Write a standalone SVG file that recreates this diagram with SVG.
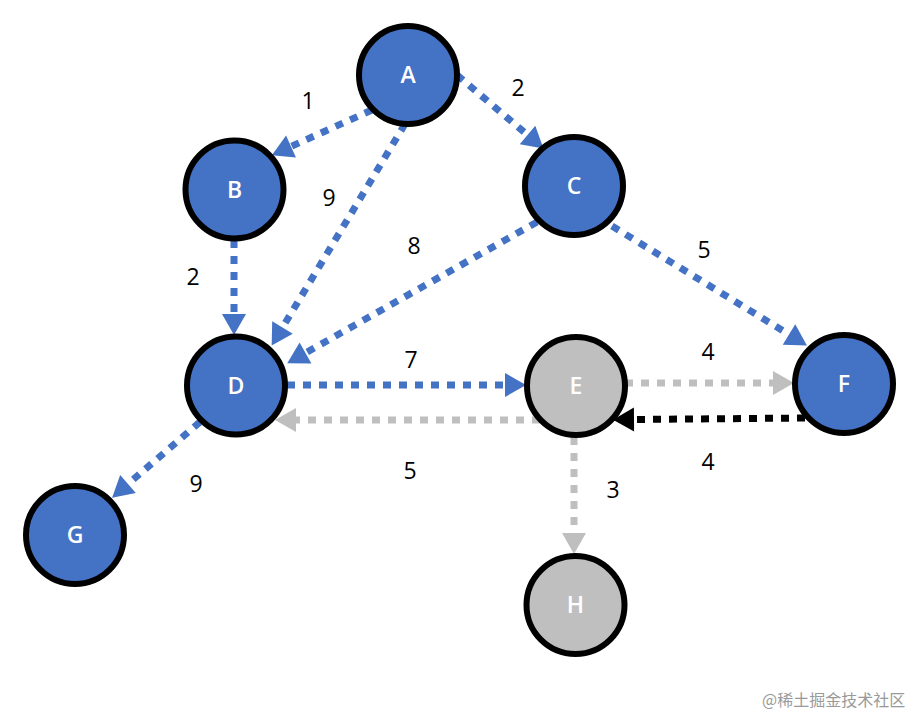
<svg xmlns="http://www.w3.org/2000/svg" width="914" height="718" viewBox="0 0 914 718">
<style>
.nb{fill:#4472C4;stroke:#000;stroke-width:6}
.ng{fill:#BFBFBF;stroke:#000;stroke-width:6}
.nt{fill:#fff;font-family:"Open Sans","Liberation Sans",sans-serif;font-size:23px;font-weight:600;text-anchor:middle}
.e{fill:none;stroke-width:7;stroke-dasharray:8 8}
.eb{stroke:#4472C4}
.eg{stroke:#BFBFBF}
.ek{stroke:#000}
.lb{fill:#000;font-family:"Open Sans","Liberation Sans",sans-serif;font-size:23px;text-anchor:middle}
.wm{fill:#9a9a9a;font-family:"Noto Sans CJK SC",sans-serif;font-size:16px}
</style>
<defs>
<marker id="ab" markerUnits="userSpaceOnUse" markerWidth="22" markerHeight="24" refX="0" refY="12" orient="auto" overflow="visible"><path d="M0,0 L21,12 L0,24 z" fill="#4472C4"/></marker>
<marker id="ag" markerUnits="userSpaceOnUse" markerWidth="22" markerHeight="24" refX="0" refY="12" orient="auto" overflow="visible"><path d="M0,0 L21,12 L0,24 z" fill="#BFBFBF"/></marker>
<marker id="ak" markerUnits="userSpaceOnUse" markerWidth="22" markerHeight="24" refX="0" refY="12" orient="auto" overflow="visible"><path d="M0,0 L21,12 L0,24 z" fill="#000"/></marker>
</defs>
<g id="edges">
<line class="e eb" x1="372" y1="110" x2="291" y2="146.5" marker-end="url(#ab)"/>
<line class="e eb" x1="457" y1="75" x2="527.5" y2="135" marker-end="url(#ab)"/>
<line class="e eb" x1="405" y1="124" x2="282.5" y2="327.5" marker-end="url(#ab)"/>
<line class="e eb" x1="234" y1="240" x2="234" y2="314" marker-end="url(#ab)"/>
<line class="e eb" x1="537" y1="222" x2="305.5" y2="353" marker-end="url(#ab)"/>
<line class="e eb" x1="612" y1="226" x2="789" y2="334.5" marker-end="url(#ab)"/>
<line class="e eb" x1="287" y1="385" x2="505" y2="385" marker-end="url(#ab)"/>
<line class="e eg" x1="540" y1="420" x2="296" y2="420" marker-end="url(#ag)"/>
<line class="e eg" x1="625" y1="383" x2="773" y2="383" marker-end="url(#ag)"/>
<line class="e ek" x1="805" y1="418" x2="634" y2="419.5" marker-end="url(#ak)"/>
<line class="e eg" x1="574" y1="437" x2="574" y2="533" marker-end="url(#ag)"/>
<line class="e eb" x1="200" y1="422" x2="128" y2="484" marker-end="url(#ab)"/>
</g>
<g id="labels">
<text class="lb" x="308" y="109">1</text>
<text class="lb" x="518" y="96">2</text>
<text class="lb" x="329" y="206">9</text>
<text class="lb" x="193" y="285">2</text>
<text class="lb" x="414" y="254">8</text>
<text class="lb" x="704" y="258">5</text>
<text class="lb" x="411" y="368">7</text>
<text class="lb" x="708" y="360">4</text>
<text class="lb" x="410" y="479">5</text>
<text class="lb" x="708" y="470">4</text>
<text class="lb" x="613" y="498">3</text>
<text class="lb" x="196" y="492">9</text>
</g>
<g id="node-A"><circle class="nb" cx="408" cy="75" r="49"/><text class="nt" x="408" y="83">A</text></g>
<g id="node-B"><circle class="nb" cx="234.5" cy="189.5" r="49"/><text class="nt" x="234.5" y="197.5">B</text></g>
<g id="node-C"><circle class="nb" cx="574" cy="186" r="49"/><text class="nt" x="574" y="194">C</text></g>
<g id="node-D"><circle class="nb" cx="236" cy="385.5" r="49"/><text class="nt" x="236" y="393.5">D</text></g>
<g id="node-E"><circle class="ng" cx="576" cy="386" r="49"/><text class="nt" x="576" y="394">E</text></g>
<g id="node-F"><circle class="nb" cx="844" cy="384" r="49"/><text class="nt" x="844" y="392">F</text></g>
<g id="node-G"><circle class="nb" cx="75" cy="535" r="49"/><text class="nt" x="75" y="543">G</text></g>
<g id="node-H"><circle class="ng" cx="575.5" cy="605" r="49"/><text class="nt" x="575.5" y="613">H</text></g>
<text class="wm" x="762" y="706">@稀土掘金技术社区</text>
</svg>
